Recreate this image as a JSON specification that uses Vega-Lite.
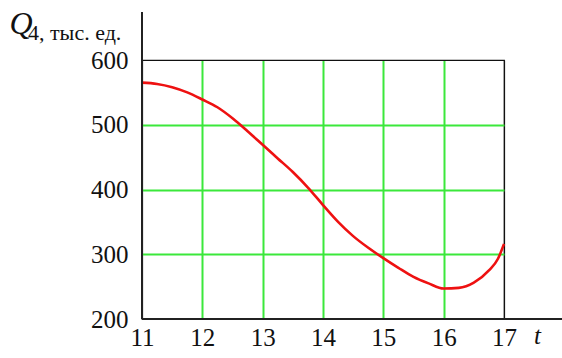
{
  "$schema": "https://vega.github.io/schema/vega-lite/v6.json",
  "width": 362,
  "height": 259,
  "autosize": {"type": "none"},
  "padding": {"left": 142, "top": 60, "right": 58, "bottom": 39},
  "background": "white",
  "view": {"stroke": "#111", "strokeWidth": 1.2},
  "title": {
    "text": "4, тыс. ед.",
    "anchor": "start",
    "frame": "group",
    "dx": -114,
    "dy": 82,
    "offset": 27,
    "baseline": "alphabetic",
    "font": "Liberation Serif",
    "fontSize": 22,
    "fontWeight": "normal",
    "color": "#111"
  },
  "data": {
    "values": [
      {"t": 11.0, "Q": 565},
      {"t": 11.25, "Q": 563},
      {"t": 11.5, "Q": 558},
      {"t": 11.75, "Q": 550},
      {"t": 12.0, "Q": 539},
      {"t": 12.25, "Q": 527},
      {"t": 12.5, "Q": 510},
      {"t": 12.75, "Q": 490},
      {"t": 13.0, "Q": 469},
      {"t": 13.25, "Q": 448},
      {"t": 13.5, "Q": 427},
      {"t": 13.75, "Q": 403},
      {"t": 14.0, "Q": 376},
      {"t": 14.25, "Q": 350},
      {"t": 14.5, "Q": 328},
      {"t": 14.75, "Q": 310},
      {"t": 15.0, "Q": 294},
      {"t": 15.25, "Q": 279},
      {"t": 15.5, "Q": 265},
      {"t": 15.75, "Q": 255},
      {"t": 16.0, "Q": 247},
      {"t": 16.25, "Q": 248},
      {"t": 16.5, "Q": 256},
      {"t": 16.75, "Q": 275},
      {"t": 16.9, "Q": 293},
      {"t": 17.0, "Q": 316}
    ]
  },
  "layer": [
    {
      "mark": {"type": "line", "color": "#ee1111", "strokeWidth": 2.6, "interpolate": "monotone"},
      "encoding": {
        "x": {
          "field": "t",
          "type": "quantitative",
          "scale": {"domain": [11, 17], "nice": false, "zero": false},
          "axis": {
            "values": [11, 12, 13, 14, 15, 16, 17],
            "format": "d",
            "title": "t",
            "titleFont": "Liberation Serif",
            "titleFontStyle": "italic",
            "titleFontWeight": "normal",
            "titleFontSize": 25,
            "titleColor": "#111",
            "titleAlign": "center",
            "titleBaseline": "alphabetic",
            "titleX": 395,
            "titleY": 24,
            "labelFont": "Liberation Serif",
            "labelFontSize": 25,
            "labelColor": "#111",
            "labelPadding": 6,
            "labelFlush": false,
            "ticks": false,
            "domain": false,
            "grid": true,
            "gridColor": {"condition": {"test": "datum.value == 17 || datum.value == 11", "value": "#111"}, "value": "#3be83b"},
            "gridWidth": {"condition": {"test": "datum.value == 17 || datum.value == 11", "value": 1.2}, "value": 2},
            "gridOpacity": 1
          }
        },
        "y": {
          "field": "Q",
          "type": "quantitative",
          "scale": {"domain": [200, 600], "nice": false, "zero": false},
          "axis": {
            "values": [200, 300, 400, 500, 600],
            "format": "d",
            "title": "Q",
            "titleFont": "Liberation Serif",
            "titleFontStyle": "italic",
            "titleFontWeight": "normal",
            "titleFontSize": 32,
            "titleColor": "#111",
            "titleAngle": 0,
            "titleAlign": "left",
            "titleBaseline": "alphabetic",
            "titleX": -133,
            "titleY": -27,
            "labelFont": "Liberation Serif",
            "labelFontSize": 25,
            "labelColor": "#111",
            "labelPadding": 14,
            "labelFlush": false,
            "ticks": false,
            "domain": false,
            "grid": true,
            "gridColor": {"condition": {"test": "datum.value == 600 || datum.value == 200", "value": "#111"}, "value": "#3be83b"},
            "gridWidth": {"condition": {"test": "datum.value == 600 || datum.value == 200", "value": 1.2}, "value": 2},
            "gridOpacity": 1
          }
        }
      }
    },
    {
      "mark": {"type": "rule", "color": "#222", "strokeWidth": 1.6, "clip": false},
      "encoding": {
        "x": {"datum": 11, "type": "quantitative"},
        "y": {"datum": 200, "type": "quantitative"},
        "y2": {"datum": 674}
      }
    },
    {
      "mark": {"type": "rule", "color": "#222", "strokeWidth": 1.6, "clip": false},
      "encoding": {
        "x": {"datum": 11, "type": "quantitative"},
        "x2": {"datum": 18},
        "y": {"datum": 200, "type": "quantitative"}
      }
    }
  ]
}
